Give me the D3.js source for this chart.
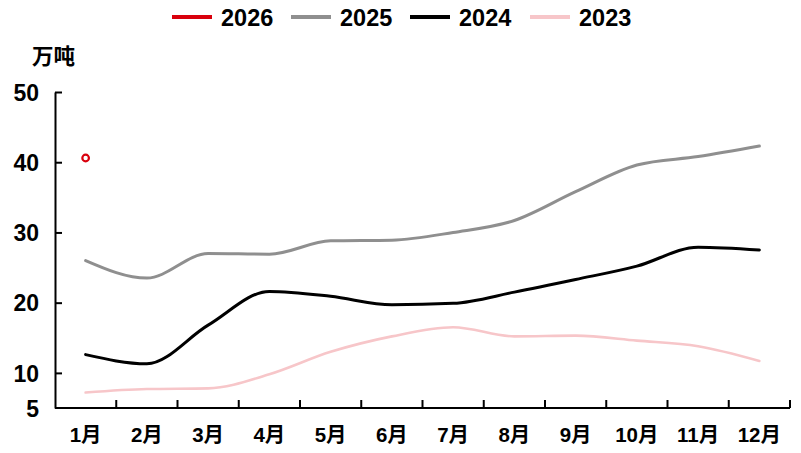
<!DOCTYPE html>
<html>
<head>
<meta charset="utf-8">
<script src="https://cdn.jsdelivr.net/npm/d3@7"></script>
<style>
html,body{margin:0;padding:0;background:#fff;}
svg{display:block;}
text{font-family:"Liberation Sans","Noto Sans CJK SC",sans-serif;fill:#000;}
</style>
</head>
<body>
<svg id="chart" width="801" height="453"></svg>
<script>
const months = ["1月","2月","3月","4月","5月","6月","7月","8月","9月","10月","11月","12月"];
const yTicks = [5,10,20,30,40,50];
const s2026 = [40.6];
const s2025 = [26.0,23.5,27.0,26.9,28.8,28.9,30.0,31.7,35.8,39.6,40.8,42.3];
const s2024 = [12.6,11.3,16.8,21.6,20.9,19.7,19.9,21.5,23.3,25.2,27.9,27.5];
const s2023 = [7.2,7.7,7.8,9.8,13.0,15.2,16.5,15.2,15.3,14.6,13.8,11.7];
const seriesNames = ["2026","2025","2024","2023"];
const seriesColors = ["#d9000d","#8f8f8f","#000000","#f7c6c9"];
const unitLabel = "万吨";

const svg = d3.select("#chart");
const x = d3.scaleBand().domain(months).range([55,790]).padding(0);
const y = d3.scaleLinear().domain([5,50]).range([408,92]);
const cx = m => x(m) + x.bandwidth()/2;

// y axis
const yAxis = svg.append("g").attr("transform","translate(55,0)")
  .call(d3.axisLeft(y).tickValues(yTicks).tickSize(-7).tickSizeOuter(0));
yAxis.select(".domain").attr("stroke","#000").attr("stroke-width",2);
yAxis.selectAll(".tick line").attr("stroke","#000").attr("stroke-width",2);
yAxis.selectAll(".tick text").attr("font-size",23).attr("font-weight","bold").attr("fill","#000")
  .attr("x",-16).attr("dy","0.36em");
yAxis.selectAll(".tick").filter(d=>d===5).select("line").remove();

// x axis line
svg.append("line").attr("x1",x.range()[0]).attr("x2",x.range()[1]).attr("y1",y(5)).attr("y2",y(5))
  .attr("stroke","#000").attr("stroke-width",2);
// x ticks at band boundaries
const bounds = months.slice(1).map(m=>x(m)).concat([x.range()[1]]);
svg.append("g").selectAll("line").data(bounds).join("line")
  .attr("x1",d=>d).attr("x2",d=>d).attr("y1",y(5)).attr("y2",y(5)-8)
  .attr("stroke","#000").attr("stroke-width",2);
svg.append("g").selectAll("text").data(months).join("text")
  .attr("x",d=>cx(d)).attr("y",442).attr("text-anchor","middle")
  .attr("font-size",20.5).attr("font-weight","bold").text(d=>d);

// unit
svg.append("text").attr("x",32).attr("y",64).attr("font-size",21.5).attr("font-weight","bold").text(unitLabel);

// lines
const line = d3.line().x((d,i)=>cx(months[i])).y(d=>y(d)).curve(d3.curveMonotoneX);
const drawOrder = [[s2023,3,2.6],[s2025,1,3],[s2024,2,3]];
drawOrder.forEach(([data,ci,w])=>{
  svg.append("path").datum(data).attr("d",line).attr("fill","none")
    .attr("stroke",seriesColors[ci]).attr("stroke-width",w).attr("stroke-linejoin","round").attr("stroke-linecap","round");
});
// 2026 point
svg.append("g").selectAll("circle").data(s2026).join("circle")
  .attr("cx",(d,i)=>cx(months[i])).attr("cy",d=>y(d)).attr("r",3.3)
  .attr("fill","#fff").attr("stroke",seriesColors[0]).attr("stroke-width",2.2);

// legend
const legX = [172,291,410,530];
const leg = svg.append("g");
seriesNames.forEach((n,i)=>{
  leg.append("line").attr("x1",legX[i]).attr("x2",legX[i]+40).attr("y1",17).attr("y2",17)
    .attr("stroke",seriesColors[i]).attr("stroke-width",4);
  leg.append("text").attr("x",legX[i]+49).attr("y",26).attr("font-size",23.5).attr("font-weight","bold").text(n);
});
</script>
</body>
</html>
